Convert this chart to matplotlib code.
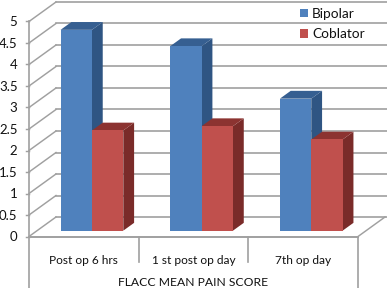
import matplotlib
matplotlib.use('Agg')
import matplotlib.pyplot as plt
from matplotlib.patches import Polygon, Patch
import numpy as np

categories = ['Post op 6 hrs', '1 st post op day', '7th op day']
bipolar = [4.67, 4.29, 3.07]
coblator = [2.33, 2.43, 2.12]
y_ticks = [0, 0.5, 1, 1.5, 2, 2.5, 3, 3.5, 4, 4.5, 5]
y_labels = ['0', '0.5', '1', '1.5', '2', '2.5', '3', '3.5', '4', '4.5', '5']
x_title = 'FLACC MEAN PAIN SCORE'

blue = ('#4f81bd', '#2f5583', '#365f91')
red = ('#c0504d', '#7a2b29', '#8c3331')
grid = '#a0a0a0'
ink = '#111111'

plt.rcParams['font.family'] = ['Lato', 'DejaVu Sans']

# pixel size of one category / one y unit, position of the origin
cat_px = 109.67
unit_px = 43.0
x0_px, y0_px = 29.0, 236.5
# depth of the 3d box as an offset in data units
dx = 27.0 / cat_px
dy = 19.5 / unit_px
bar_w = 0.286
bar_start = 0.214
front, back = 0.3, 0.7

fig = plt.figure(figsize=(3.87, 2.88), dpi=100)
ax = fig.add_axes([0, 0, 1, 1])
ax.set_xlim(-x0_px / cat_px, (387 - x0_px) / cat_px)
ax.set_ylim((y0_px - 288) / unit_px, y0_px / unit_px)
ax.axis('off')

lw = 1.05
xmax = (387 - x0_px) / cat_px

# grid on the back wall and on the left wall
for t, lab in zip(y_ticks, y_labels):
    ax.plot([0, dx], [t, t + dy], color=grid, lw=lw, zorder=1)
    ax.plot([dx, xmax], [t + dy, t + dy], color=grid, lw=1.2, zorder=1)
    ax.plot([-3 / cat_px, 0], [t, t], color=grid, lw=lw, zorder=1)
    ax.text(-11.5 / cat_px, t - 0.02, lab, ha='right', va='center', fontsize=9.5, color=ink)

# floor and category separators
ax.plot([0, 3], [0, 0], color=grid, lw=1.4, zorder=1)
ax.plot([3, 3 + dx], [0, dy], color=grid, lw=lw, zorder=1)
ax.plot([0, 0], [5, -52 / unit_px], color=grid, lw=1.2, zorder=1)
ax.plot([3, 3], [0, -52 / unit_px], color=grid, lw=1.2, zorder=1)
for i in [1, 2]:
    ax.plot([i, i], [0, -25 / unit_px], color=grid, lw=1.2, zorder=1)


def bar3d(x, w, h, cols, z):
    x1 = x + front * dx
    x2 = x + back * dx
    y1 = front * dy
    y2 = back * dy
    ax.add_patch(Polygon([(x1 + w, y1), (x2 + w, y2), (x2 + w, y2 + h), (x1 + w, y1 + h)],
                         closed=True, fc=cols[1], ec='none', zorder=z))
    ax.add_patch(Polygon([(x1, y1 + h), (x1 + w, y1 + h), (x2 + w, y2 + h), (x2, y2 + h)],
                         closed=True, fc=cols[2], ec='none', zorder=z))
    ax.add_patch(Polygon([(x1, y1), (x1 + w, y1), (x1 + w, y1 + h), (x1, y1 + h)],
                         closed=True, fc=cols[0], ec='none', zorder=z + 0.1))


for i in range(3):
    bar3d(i + bar_start, bar_w, bipolar[i], blue, 2 + i)
    bar3d(i + bar_start + bar_w, bar_w, coblator[i], red, 2.5 + i)
    ax.text(i + 0.5, -0.55, categories[i], ha='center', va='center', fontsize=8.6, color=ink)

ax.text(1.5, -1.07, x_title, ha='center', va='center', fontsize=8.7, color=ink)

handles = [Patch(fc=blue[0], label='Bipolar'), Patch(fc=red[0], label='Coblator')]
ax.legend(handles=handles, loc='upper left', bbox_to_anchor=(297 / 387, 1 - 5 / 288), frameon=False,
          fontsize=9.8, handlelength=0.62, handleheight=0.62, handletextpad=0.3,
          labelspacing=0.62, borderpad=0.2, borderaxespad=0, labelcolor=ink)

fig.savefig('out.png', dpi=100)
